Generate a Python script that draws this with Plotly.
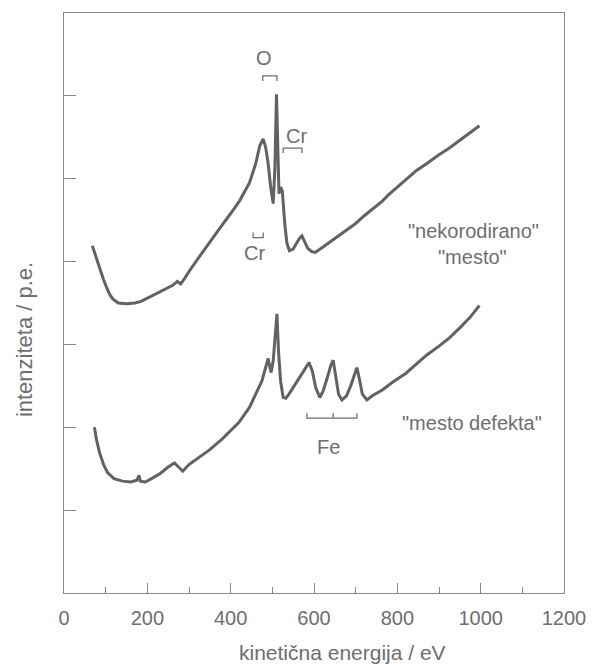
import plotly.graph_objects as go

# ---- data (energy in eV, intensity in arbitrary units) ----
upper_energy = [68, 75, 85, 95, 102, 110, 117, 130, 150, 170, 185, 200, 220, 240, 260, 272, 280,
                290, 300, 325, 350, 375, 400, 421, 445, 460, 470, 478, 484, 490, 496, 502, 506,
                510, 513, 516, 520, 524, 530, 535, 541, 550, 558, 565, 571, 577, 585, 595,
                603, 620, 640, 660, 685, 700, 720, 740, 764, 780, 800, 820, 846, 870, 900, 925,
                950, 975, 997]
upper_int = [4.19, 4.08, 3.93, 3.78, 3.69, 3.60, 3.55, 3.50, 3.49, 3.50, 3.52, 3.56, 3.61, 3.66,
             3.71, 3.76, 3.73, 3.80, 3.88, 4.06, 4.24, 4.41, 4.58, 4.73, 4.95, 5.18, 5.40, 5.48,
             5.38, 5.18, 4.90, 4.70, 5.10, 6.02, 5.40, 4.82, 4.90, 4.85, 4.45, 4.22, 4.13,
             4.15, 4.22, 4.28, 4.31, 4.24, 4.16, 4.12, 4.11, 4.17, 4.24, 4.31, 4.40, 4.46, 4.55,
             4.63, 4.73, 4.81, 4.90, 4.99, 5.10, 5.18, 5.29, 5.37, 5.46, 5.55, 5.64]

lower_energy = [73, 78, 85, 95, 105, 120, 140, 160, 175, 180, 183, 195, 210, 230, 250, 265, 275,
                285, 300, 325, 350, 380, 400, 420, 445, 460, 475, 490, 497, 502, 507, 511, 515,
                520, 526, 532, 540, 550, 565, 578, 588, 596, 604, 614, 622, 632, 640, 646, 652,
                659, 667, 678, 688, 696, 703, 709, 716, 727, 740, 764, 790, 820, 846, 870, 900,
                925, 950, 975, 997]
lower_int = [2.00, 1.85, 1.70, 1.55, 1.45, 1.38, 1.35, 1.34, 1.36, 1.42, 1.35, 1.34, 1.38, 1.44,
             1.52, 1.57, 1.52, 1.47, 1.55, 1.64, 1.73, 1.86, 1.96, 2.06, 2.24, 2.40, 2.56, 2.83,
             2.66, 2.80, 3.10, 3.37, 2.90, 2.55, 2.36, 2.35, 2.40, 2.48, 2.60, 2.70, 2.78, 2.68,
             2.48, 2.36, 2.44, 2.60, 2.74, 2.81, 2.62, 2.40, 2.33, 2.38, 2.50, 2.62, 2.72, 2.58,
             2.40, 2.33, 2.38, 2.45, 2.55, 2.65, 2.77, 2.87, 2.98, 3.08, 3.20, 3.33, 3.47]

x_tick_vals = [0, 200, 400, 600, 800, 1000, 1200]
x_tick_text = ["0", "200", "400", "600", "800", "1000", "1200"]
y_tick_vals = [1, 2, 3, 4, 5, 6]

# labels: (text, energy, intensity)
label_texts = ["O", "Cr", "Cr", "Fe", "\"nekorodirano\"", "\"mesto\"", "\"mesto defekta\""]
label_x = [480, 557, 458, 634, 982, 980, 979]
label_y = [6.46, 5.52, 4.10, 1.76, 4.37, 4.05, 2.05]

# brackets: [x_left, x_right, y_bar, y_leg_end]
bracket_O = [477, 511, 6.24, 6.18]
bracket_Cr_up = [526, 571, 5.37, 5.31]
bracket_Cr_low = [454, 478, 4.29, 4.35]
fe_bracket_x = [583, 646, 703]
fe_bracket_y = [2.11, 2.17]

INK = "#626262"
TXT = "#6e6e6e"
FONT = "Liberation Sans, Arial, sans-serif"

fig = go.Figure()
fig.add_trace(go.Scatter(x=upper_energy, y=upper_int, mode="lines",
                         line=dict(color=INK, width=3), showlegend=False, hoverinfo="skip"))
fig.add_trace(go.Scatter(x=lower_energy, y=lower_int, mode="lines",
                         line=dict(color=INK, width=3), showlegend=False, hoverinfo="skip"))

shapes = []
for b in (bracket_O, bracket_Cr_up, bracket_Cr_low):
    xl, xr, yb, ye = b
    shapes.append(dict(type="path", xref="x", yref="y",
                       path=f"M {xl},{ye} L {xl},{yb} L {xr},{yb} L {xr},{ye}",
                       line=dict(color=TXT, width=1.3)))
path = f"M {fe_bracket_x[0]},{fe_bracket_y[1]} L {fe_bracket_x[0]},{fe_bracket_y[0]} L {fe_bracket_x[2]},{fe_bracket_y[0]} L {fe_bracket_x[2]},{fe_bracket_y[1]} M {fe_bracket_x[1]},{fe_bracket_y[0]} L {fe_bracket_x[1]},{fe_bracket_y[1]}"
shapes.append(dict(type="path", xref="x", yref="y", path=path,
                   line=dict(color=TXT, width=1.3)))

annotations = []
for t, x, y in zip(label_texts, label_x, label_y):
    annotations.append(dict(text=t, x=x, y=y, xref="x", yref="y", showarrow=False,
                            font=dict(family=FONT, size=20, color=TXT),
                            xanchor="center", yanchor="middle"))
annotations.append(dict(text="kinetična energija / eV", xref="paper", yref="paper",
                        x=0.556, y=-0.103, showarrow=False, xanchor="center", yanchor="middle",
                        font=dict(family=FONT, size=21, color=TXT)))
annotations.append(dict(text="intenziteta / p.e.", xref="paper", yref="paper",
                        x=-0.08, y=0.436, showarrow=False, xanchor="center", yanchor="middle",
                        textangle=-90, font=dict(family=FONT, size=22, color=TXT)))

fig.update_layout(
    width=599, height=664,
    margin=dict(l=64, r=35, t=13, b=71),
    paper_bgcolor="white", plot_bgcolor="white",
    shapes=shapes, annotations=annotations,
    xaxis=dict(range=[0, 1200], tickvals=x_tick_vals, ticktext=x_tick_text,
               ticks="inside", ticklen=10, tickcolor="#888", tickwidth=1,
               minor=dict(dtick=100, tick0=0, ticks="inside", ticklen=6, tickcolor="#888"),
               showline=True, linecolor="#8a8a8a", linewidth=1, mirror=True,
               showgrid=False, zeroline=False, automargin=False, ticklabelstandoff=7,
               tickfont=dict(family=FONT, size=20, color=TXT)),
    yaxis=dict(range=[0, 7], tickvals=y_tick_vals, showticklabels=False,
               ticks="inside", ticklen=12, tickcolor="#888", tickwidth=1,
               showline=True, linecolor="#8a8a8a", linewidth=1, mirror=True,
               showgrid=False, zeroline=False, automargin=False),
)

fig.write_html("out.html", config={"displayModeBar": False},
               post_script="document.body.style.margin='0';document.body.style.overflow='hidden';")
